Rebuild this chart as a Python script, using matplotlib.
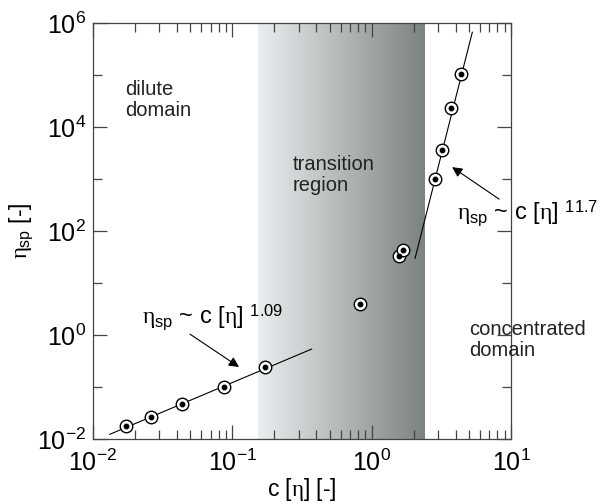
import numpy as np
import matplotlib
matplotlib.use('Agg')
import matplotlib.pyplot as plt
from matplotlib.ticker import FixedLocator, LogLocator, NullFormatter, FuncFormatter

plt.rcParams['font.family'] = ['Liberation Sans', 'DejaVu Sans']
plt.rcParams['mathtext.fontset'] = 'custom'
plt.rcParams['mathtext.rm'] = 'Liberation Sans'
plt.rcParams['mathtext.it'] = 'Liberation Serif'
plt.rcParams['mathtext.bf'] = 'Liberation Sans:bold'

# measured points, c[eta] vs eta_sp
c_eta = [0.0173, 0.0259, 0.0433, 0.0867, 0.172, 0.826, 1.56, 1.68, 2.85, 3.22, 3.70, 4.39]
eta_sp = [0.0178, 0.0269, 0.0464, 0.101, 0.243, 3.95, 33.0, 43.0, 1000.0, 3600.0, 2.3e4, 1.06e5]

# power-law fits (end points of the drawn lines)
fit_low_x = [0.0132, 0.371]
fit_low_y = [0.0123, 0.537]
fit_high_x = [2.05, 5.28]
fit_high_y = [30.0, 6.7e5]

# transition region bounds
trans_lo, trans_hi = 0.153, 2.38

xmin, xmax = 1e-2, 1e1
ymin, ymax = 1e-2, 1e6

fig = plt.figure(figsize=(6.01, 5.04), dpi=100)
ax = fig.add_axes([0.1547, 0.129, 0.6955, 0.825])
ax.set_xscale('log')
ax.set_yscale('log')
ax.set_xlim(xmin, xmax)
ax.set_ylim(ymin, ymax)

# grey gradient over the transition region
f0 = (np.log10(trans_lo) - np.log10(xmin)) / (np.log10(xmax) - np.log10(xmin))
f1 = (np.log10(trans_hi) - np.log10(xmin)) / (np.log10(xmax) - np.log10(xmin))
c_left = np.array([233, 238, 240]) / 255.0
c_right = np.array([125, 130, 130]) / 255.0
t = np.linspace(0, 1, 256)
grad = (c_left[None, :] * (1 - t[:, None]) + c_right[None, :] * t[:, None])[None, :, :]
ax.imshow(grad, extent=[f0, f1, 0, 1], transform=ax.transAxes, aspect='auto',
          interpolation='bilinear', zorder=0)

ax.plot(fit_low_x, fit_low_y, color='black', lw=0.8, zorder=2)
ax.plot(fit_high_x, fit_high_y, color='black', lw=0.8, zorder=2)
ax.plot(c_eta, eta_sp, 'o', ms=9, mfc='white', mec='black', mew=1.0, ls='none', zorder=3)
ax.plot(c_eta, eta_sp, 'o', ms=3.2, mfc='black', mec='black', ls='none', zorder=4)

# ticks
ax.yaxis.set_major_locator(FixedLocator([1e-2, 1e0, 1e2, 1e4, 1e6]))
ax.yaxis.set_minor_locator(FixedLocator([1e-1, 1e1, 1e3, 1e5]))
ax.xaxis.set_major_locator(LogLocator(base=10))
ax.xaxis.set_minor_locator(LogLocator(base=10, subs=np.arange(2, 10)))
fmt = FuncFormatter(lambda v, p: r'$\mathregular{10^{%d}}$' % int(round(np.log10(v))))
ax.xaxis.set_major_formatter(fmt)
ax.yaxis.set_major_formatter(fmt)
ax.xaxis.set_minor_formatter(NullFormatter())
ax.yaxis.set_minor_formatter(NullFormatter())
ax.tick_params(which='both', direction='in', top=True, right=True, color='#444444', width=0.9)
ax.tick_params(which='major', length=10, labelsize=18)
ax.tick_params(axis='x', which='major', pad=8)
ax.tick_params(axis='y', which='major', pad=5)
ax.tick_params(which='minor', length=6.5)
for s in ax.spines.values():
    s.set_color('#444444')
    s.set_linewidth(0.9)

ax.set_xlabel(r'c [$\eta$] [-]', fontsize=16.5, labelpad=0)
ax.set_ylabel(r'$\eta_{\mathrm{sp}}$ [-]', fontsize=16.5, labelpad=1)

txt = dict(fontsize=14.5, color='#222222', linespacing=1.1)
ax.text(0.017, 7.9e4, 'dilute\ndomain', va='top', ha='left', **txt)
ax.text(0.273, 2900, 'transition\nregion', va='top', ha='left', **txt)
ax.text(5.0, 1.94, 'concentrated\ndomain', va='top', ha='left', **txt)

arrow = dict(arrowstyle='-|>', color='black', lw=0.8, mutation_scale=15, shrinkA=0, shrinkB=0)
ax.annotate('', xy=(0.1117, 0.243), xytext=(0.0497, 1.04), arrowprops=arrow)
ax.annotate('', xy=(3.78, 1700), xytext=(8.22, 412), arrowprops=arrow, annotation_clip=False)
ax.text(0.0225, 2.22, r'$\eta_{\mathrm{sp}}$ ~ c [$\eta$] ${}^{\mathrm{1.09}}$',
        va='center', ha='left', fontsize=17)
ax.text(4.1, 222, r'$\eta_{\mathrm{sp}}$ ~ c [$\eta$] ${}^{\mathrm{11.7}}$',
        va='center', ha='left', fontsize=17)

fig.savefig('out.png', dpi=100)
